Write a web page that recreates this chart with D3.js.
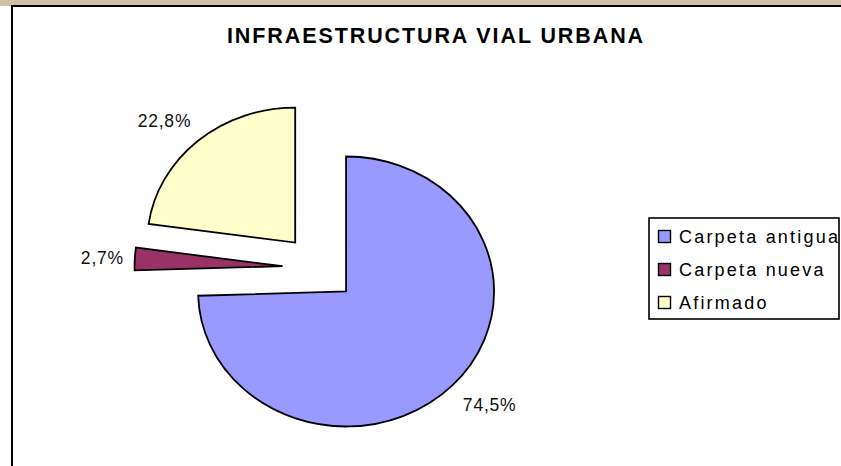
<!DOCTYPE html>
<html>
<head>
<meta charset="utf-8">
<script src="https://cdn.jsdelivr.net/npm/d3@7"></script>
<style>
  html, body { margin: 0; padding: 0; background: #ffffff; }
  svg { display: block; font-family: Arial, "Liberation Sans", sans-serif; }
</style>
</head>
<body>
<svg id="chart" width="841" height="466"></svg>
<script>
// ---- data ----
const title = "INFRAESTRUCTURA VIAL URBANA";
const categories = ["Carpeta antigua", "Carpeta nueva", "Afirmado"];
const values = [74.5, 2.7, 22.8];
const valueLabels = ["74,5%", "2,7%", "22,8%"];
const colors = ["#9999FF", "#993366", "#FFFFCC"];

// ---- layout ----
const W = 841, H = 466;
const svg = d3.select("#chart");

// backdrop strip above the chart frame
svg.append("rect").attr("x", 0).attr("y", 0).attr("width", W).attr("height", 6)
  .attr("fill", "#cfc1a5");
svg.append("rect").attr("x", 12).attr("y", 6).attr("width", W + 20).attr("height", H + 20)
  .attr("fill", "#ffffff").attr("stroke", "#000").attr("stroke-width", 2);

// title
svg.append("text")
  .attr("x", 436).attr("y", 43)
  .attr("text-anchor", "middle")
  .attr("font-size", 21.5).attr("font-weight", "bold")
  .attr("letter-spacing", 1.9)
  .attr("fill", "#000")
  .text(title);

// pie geometry (elliptical, all slices exploded)
const cx = 319.5, cy = 268;
const rx = 148, ry = 135;
const explode = 0.25;

const pie = d3.pie().sort(null).value(d => d)
  .startAngle(0).endAngle(2 * Math.PI);
const arcs = pie(values);
const arc = d3.arc().innerRadius(0).outerRadius(ry);
const sx = rx / ry;

const g = svg.append("g");
arcs.forEach((a, i) => {
  const mid = (a.startAngle + a.endAngle) / 2;
  const ox = cx + explode * rx * Math.sin(mid);
  const oy = cy - explode * ry * Math.cos(mid);
  g.append("path")
    .attr("d", arc(a))
    .attr("transform", `translate(${ox},${oy}) scale(${sx},1)`)
    .attr("fill", colors[i])
    .attr("stroke", "#000")
    .attr("stroke-width", 1.8)
    .attr("vector-effect", "non-scaling-stroke")
    .attr("stroke-linejoin", "miter");

  // label
  const k = 1.08;
  const px = ox + k * rx * Math.sin(mid);
  const py = oy - k * ry * Math.cos(mid);
  const s = Math.sin(mid), c = Math.cos(mid);
  const anchor = Math.abs(s) > 0.3 ? (s > 0 ? "start" : "end") : "middle";
  let baseline;
  if (c > 0.3) baseline = py - 6;
  else if (c < -0.3) baseline = py + 18;
  else baseline = py + 6;
  svg.append("text")
    .attr("x", anchor === "start" ? px + 2 : px + 1)
    .attr("y", baseline)
    .attr("text-anchor", anchor)
    .attr("font-size", 17.5)
    .attr("letter-spacing", 0.8)
    .attr("fill", "#111")
    .text(valueLabels[i]);
});

// legend
const lg = svg.append("g");
lg.append("rect").attr("x", 649).attr("y", 218).attr("width", 190).attr("height", 101)
  .attr("fill", "#fff").attr("stroke", "#000").attr("stroke-width", 1.6);
const legendY = d3.scalePoint().domain(categories).range([236, 302]);
categories.forEach((cat, i) => {
  const y = legendY(cat);
  lg.append("rect").attr("x", 658.5).attr("y", y - 5.5).attr("width", 12).attr("height", 12)
    .attr("fill", colors[i]).attr("stroke", "#000").attr("stroke-width", 1.4);
  lg.append("text").attr("x", 679).attr("y", y + 7)
    .attr("font-size", 18).attr("letter-spacing", 2.2)
    .attr("fill", "#000")
    .text(cat);
});
</script>
</body>
</html>
